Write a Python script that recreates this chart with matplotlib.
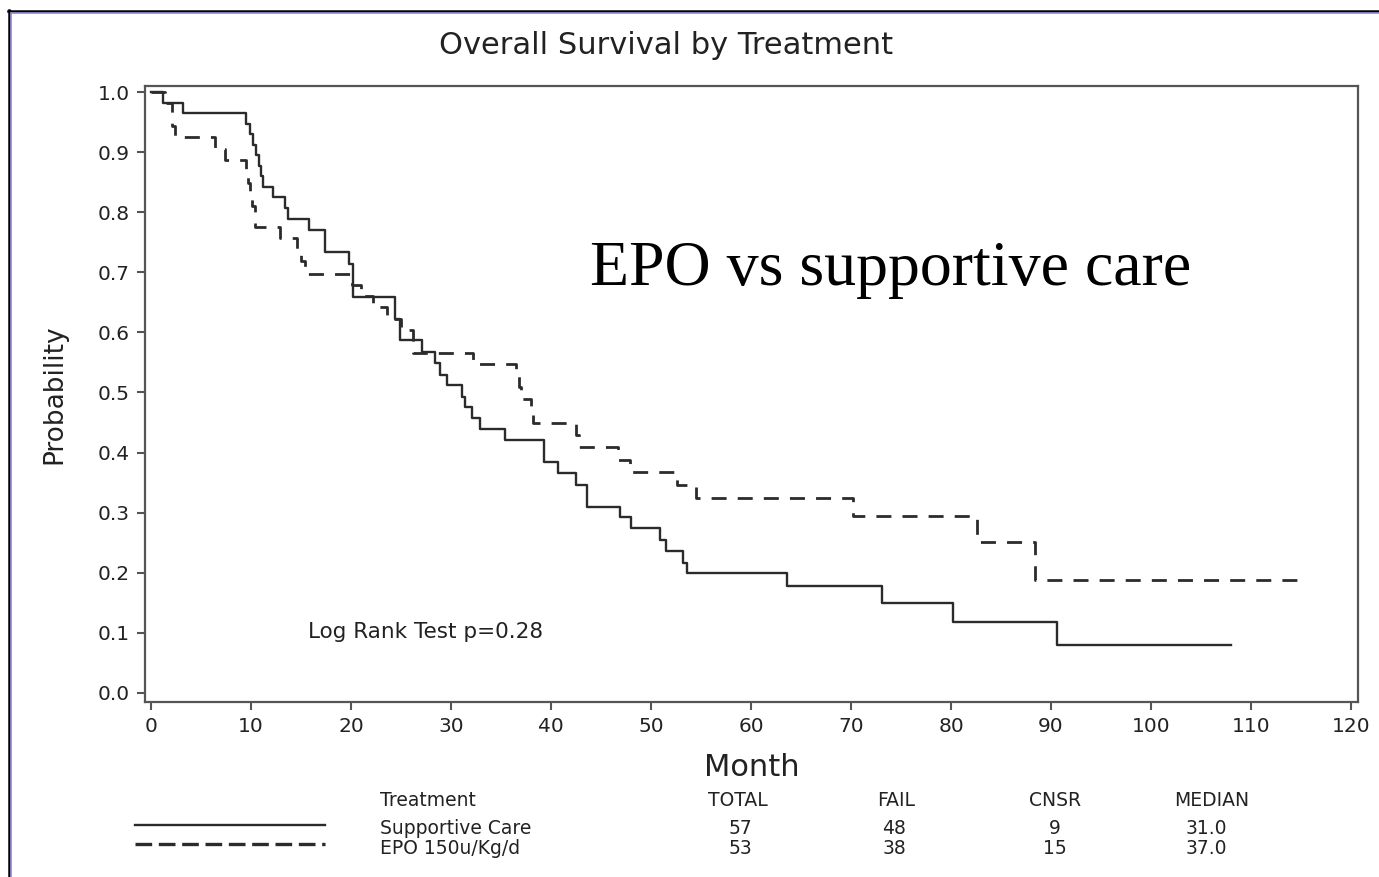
import matplotlib
matplotlib.use('Agg')
import matplotlib.pyplot as plt
from matplotlib.lines import Line2D

# Kaplan-Meier estimates: month of each drop and survival after it
care_months = [0, 1.2, 3.2, 9.5, 9.9, 10.2, 10.5, 10.8, 11.0, 11.2, 12.2, 13.4, 13.7,
               15.8, 17.4, 19.8, 20.2, 24.4, 24.9, 27.1, 28.4, 28.9, 29.6, 31.1, 31.4,
               32.1, 32.9, 35.4, 39.3, 40.7, 42.5, 43.6, 46.9, 48.0, 50.9, 51.5, 53.2,
               53.6, 63.6, 73.1, 80.2, 90.6]
care_surv = [1.0, 0.982, 0.965, 0.947, 0.930, 0.912, 0.895, 0.877, 0.860, 0.842, 0.825,
             0.807, 0.789, 0.770, 0.733, 0.714, 0.659, 0.623, 0.587, 0.568, 0.549, 0.529,
             0.512, 0.493, 0.476, 0.458, 0.440, 0.421, 0.385, 0.366, 0.346, 0.310, 0.293,
             0.274, 0.255, 0.237, 0.217, 0.199, 0.178, 0.150, 0.118, 0.080]
care_last = 108.0

epo_months = [0, 1.4, 2.1, 2.4, 6.4, 7.4, 9.5, 9.7, 9.9, 10.1, 10.4, 12.9, 14.6, 15.0,
              15.4, 20.1, 21.0, 22.2, 23.6, 25.0, 26.2, 32.2, 36.5, 36.8, 37.0, 38.0,
              38.2, 42.5, 42.8, 46.7, 47.9, 52.6, 54.5, 70.2, 82.6, 88.4]
epo_surv = [1.0, 0.981, 0.943, 0.925, 0.906, 0.887, 0.868, 0.849, 0.830, 0.811, 0.776,
            0.757, 0.738, 0.719, 0.698, 0.679, 0.660, 0.642, 0.623, 0.604, 0.566, 0.547,
            0.528, 0.509, 0.490, 0.470, 0.449, 0.430, 0.410, 0.388, 0.368, 0.346, 0.324,
            0.294, 0.252, 0.188]
epo_last = 114.9

treatments = ['Supportive Care', 'EPO 150u/Kg/d']
totals = [57, 53]
fails = [48, 38]
censored = [9, 15]
medians = [31.0, 37.0]
p_value = 0.28

W, H = 1379, 877
plt.rcParams['font.family'] = ['DejaVu Sans']
fig = plt.figure(figsize=(W / 100, H / 100), dpi=100)


def fx(px):
    return px / W


def fy(py):
    return 1 - py / H


ax = fig.add_axes([fx(145), fy(702), fx(1358) - fx(145), fy(86) - fy(702)])

line_col = '#2b2b2b'
ax.plot(care_months + [care_last], care_surv + [care_surv[-1]],
        drawstyle='steps-post', color=line_col, lw=1.7)
ax.plot(epo_months + [epo_last], epo_surv + [epo_surv[-1]],
        drawstyle='steps-post', color=line_col, lw=2.0,
        linestyle=(0, (5.4, 4.0)))

ax.set_xlim(-0.6, 120.7)
ax.set_ylim(-0.015, 1.01)
ax.set_xticks(range(0, 121, 10))
ax.set_yticks([i / 10 for i in range(11)])
ax.set_yticklabels([f'{i / 10:.1f}' for i in range(11)])
ax.tick_params(direction='out', length=6, width=1.5, color='#555555',
               labelsize=14.5, labelcolor='#222222', pad=5)
for sp in ax.spines.values():
    sp.set_color('#555555')
    sp.set_linewidth(1.6)

ax.text(15.7, 0.101, f'Log Rank Test p={p_value:.2f}', fontsize=15.5,
        color='#222222', va='center', ha='left')

ax.set_xlabel('Month', fontsize=22, color='#222222', labelpad=12)
ax.set_ylabel('Probability', fontsize=19, color='#222222', labelpad=22)

fig.text(fx(666), fy(45), 'Overall Survival by Treatment', fontsize=22,
         ha='center', va='center', color='#222222')
fig.text(fx(590), fy(285), 'EPO vs supportive care', fontsize=46,
         family='Liberation Serif', ha='left', va='baseline', color='black')

# summary table below the plot
txt = dict(fontsize=13.5, color='#222222', va='center')
fig.text(fx(380), fy(801), 'Treatment', ha='left', **txt)
for label, cx in zip(['TOTAL', 'FAIL', 'CNSR', 'MEDIAN'], [738, 896, 1055, 1212]):
    fig.text(fx(cx), fy(801), label, ha='center', **txt)

row_y = [829, 848]
styles = [dict(lw=1.7, linestyle='-'), dict(lw=2.4, linestyle=(0, (5, 2)))]
for i in range(2):
    fig.add_artist(Line2D([fx(135), fx(325)], [fy(row_y[i] - 4)] * 2,
                          color=line_col, transform=fig.transFigure, **styles[i]))
    fig.text(fx(380), fy(row_y[i]), treatments[i], ha='left', **txt)
    fig.text(fx(740), fy(row_y[i]), str(totals[i]), ha='center', **txt)
    fig.text(fx(894), fy(row_y[i]), str(fails[i]), ha='center', **txt)
    fig.text(fx(1055), fy(row_y[i]), str(censored[i]), ha='center', **txt)
    fig.text(fx(1206), fy(row_y[i]), f'{medians[i]:.1f}', ha='center', **txt)

# slide border
fig.add_artist(Line2D([fx(8), 1], [fy(10.5)] * 2, color='black', lw=1.8,
                      transform=fig.transFigure))
fig.add_artist(Line2D([fx(10), 1], [fy(13)] * 2, color='#8c86d8', lw=1.2,
                      transform=fig.transFigure))
fig.add_artist(Line2D([fx(8.5)] * 2, [0, fy(10)], color='black', lw=1.8,
                      transform=fig.transFigure))
fig.add_artist(Line2D([fx(11)] * 2, [0, fy(12.5)], color='#8c86d8', lw=1.2,
                      transform=fig.transFigure))

fig.savefig('out.png', dpi=100, facecolor='white')
